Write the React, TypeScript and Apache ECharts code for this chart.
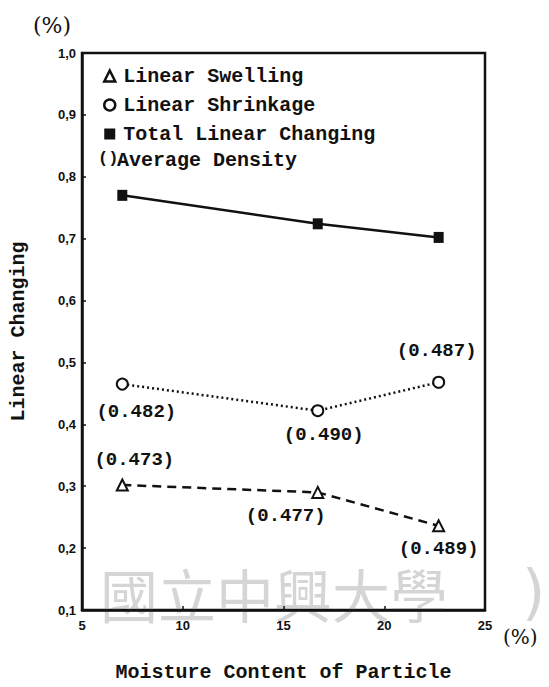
import React, { useEffect, useRef } from "react";
import * as echarts from "echarts";

const xValues = [7, 16.7, 22.7];
const swelling = [0.302, 0.29, 0.236];
const shrinkage = [0.465, 0.422, 0.468];
const total = [0.77, 0.724, 0.702];
const swellingDensity = ["0.473", "0.477", "0.489"];
const shrinkageDensity = ["0.482", "0.490", "0.487"];
const seriesNames = ["Linear Swelling", "Linear Shrinkage", "Total Linear Changing"];
const extraLegend = "Average Density";
const xTitle = "Moisture Content of Particle";
const yTitle = "Linear Changing";

const swellingOffsets = [[12, -25], [-32, 24], [0, 23]];
const shrinkageOffsets = [[14, 28], [6, 24], [-2, -31]];

const MONO = "'Liberation Mono', 'DejaVu Sans Mono', monospace";
const SANS = "'Liberation Sans', Arial, sans-serif";

export default function App() {
  const ref = useRef<HTMLDivElement>(null);
  useEffect(() => {
    if (!ref.current) return;
    const chart = echarts.init(ref.current, null, { renderer: "svg" });
    const labelStyle = {
      show: true,
      position: "inside",
      fontFamily: MONO,
      fontWeight: "bold",
      fontSize: 19,
      color: "#111",
    };
    const mk = (vals: number[], dens: string[] | null, offs: number[][] | null) =>
      xValues.map((x, i) => {
        const d: any = { value: [x, vals[i]] };
        if (dens && offs) {
          d.label = { ...labelStyle, offset: offs[i], formatter: "(" + dens[i] + ")" };
        }
        return d;
      });
    chart.setOption({
      animation: false,
      backgroundColor: "#fff",
      grid: {
        left: 81,
        right: 64,
        top: 53,
        bottom: 64,
        show: true,
        borderColor: "#111",
        borderWidth: 2.5,
      },
      legend: {
        orient: "vertical",
        left: 98,
        top: 61,
        itemGap: 9,
        itemWidth: 11,
        itemHeight: 11,
        selectedMode: false,
        textStyle: {
          fontFamily: MONO,
          fontWeight: "bold",
          fontSize: 20,
          color: "#111",
          padding: [0, 0, 0, 3],
        },
        data: [
          { name: seriesNames[0], icon: "triangle", itemStyle: { color: "#fff", borderColor: "#111", borderWidth: 2.5 } },
          { name: seriesNames[1], icon: "circle", itemStyle: { color: "#fff", borderColor: "#111", borderWidth: 2.5 } },
          { name: seriesNames[2], icon: "rect", itemStyle: { color: "#111" } },
        ],
      },
      xAxis: {
        type: "value",
        min: 5,
        max: 25,
        interval: 5,
        name: xTitle,
        nameLocation: "middle",
        nameGap: 52,
        nameTextStyle: { fontFamily: MONO, fontWeight: "bold", fontSize: 20, color: "#111" },
        axisLine: { show: true, lineStyle: { color: "#111", width: 2.5 } },
        axisTick: { show: true, inside: true, length: 4, lineStyle: { color: "#111", width: 1.5 } },
        axisLabel: { fontFamily: SANS, fontWeight: "bold", fontSize: 13, color: "#111", margin: 9 },
        splitLine: { show: false },
      },
      yAxis: {
        type: "value",
        min: 0.1,
        max: 1.0,
        interval: 0.1,
        name: yTitle,
        nameLocation: "middle",
        nameGap: 54,
        nameRotate: 90,
        nameTextStyle: { fontFamily: MONO, fontWeight: "bold", fontSize: 20, color: "#111" },
        axisLine: { show: true, lineStyle: { color: "#111", width: 2.5 } },
        axisTick: { show: true, inside: true, length: 4, lineStyle: { color: "#111", width: 1.5 } },
        axisLabel: {
          fontFamily: SANS,
          fontWeight: "bold",
          fontSize: 13,
          color: "#111",
          margin: 6,
          formatter: (v: number) => (Math.round(v * 10) / 10).toFixed(1).replace(".", ","),
        },
        splitLine: { show: false },
      },
      graphic: [
        {
          type: "text",
          left: 33,
          top: 14,
          z: 10,
          style: { text: "(%)", font: "22px 'DejaVu Serif', serif", fill: "#111" },
        },
        {
          type: "text",
          left: 503,
          top: 627,
          z: 10,
          style: { text: "(%)", font: "20px 'DejaVu Serif', serif", fill: "#111" },
        },
        {
          type: "text",
          left: 98,
          top: 150,
          z: 10,
          style: { text: "()", font: "bold 17px " + MONO, fill: "#111" },
        },
        {
          type: "text",
          left: 117,
          top: 150,
          z: 10,
          style: { text: extraLegend, font: "bold 20px " + MONO, fill: "#111" },
        },
        {
          type: "text",
          left: 100,
          top: 564,
          z: 0,
          style: {
            text: "國立中興大學",
            font: "58px 'Noto Sans CJK TC', sans-serif",
            fill: "rgba(150,150,150,0.4)",
          },
        },
        {
          type: "text",
          left: 522,
          top: 562,
          z: 0,
          style: { text: ")", font: "60px 'DejaVu Sans', sans-serif", fill: "rgba(150,150,150,0.4)" },
        },
      ],
      series: [
        {
          name: seriesNames[0],
          type: "line",
          data: mk(swelling, swellingDensity, swellingOffsets),
          symbol: "emptyTriangle",
          symbolSize: 11,
          itemStyle: { color: "#111", borderColor: "#111", borderWidth: 2.5 },
          lineStyle: { color: "#111", width: 2.5, type: [9, 6] },
          z: 5,
        },
        {
          name: seriesNames[1],
          type: "line",
          data: mk(shrinkage, shrinkageDensity, shrinkageOffsets),
          symbol: "emptyCircle",
          symbolSize: 11,
          itemStyle: { color: "#111", borderColor: "#111", borderWidth: 2.5 },
          lineStyle: { color: "#111", width: 2.5, type: [2, 3] },
          z: 5,
        },
        {
          name: seriesNames[2],
          type: "line",
          data: mk(total, null, null),
          symbol: "rect",
          symbolSize: [10, 11],
          itemStyle: { color: "#111" },
          lineStyle: { color: "#111", width: 2.5, type: "solid" },
          z: 5,
        },
      ],
    });
    return () => chart.dispose();
  }, []);
  return (
    <div
      ref={ref}
      style={{ position: "fixed", left: 0, top: 0, width: 549, height: 687, background: "#fff" }}
    />
  );
}
